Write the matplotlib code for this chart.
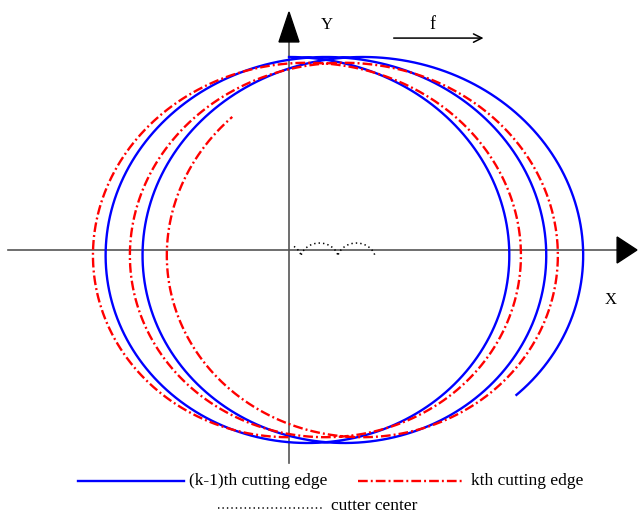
import numpy as np
import matplotlib
matplotlib.use("Agg")
import matplotlib.pyplot as plt
from matplotlib.patches import Polygon
from matplotlib.lines import Line2D

plt.rcParams["font.family"] = ["Liberation Serif", "DejaVu Serif"]
plt.rcParams["lines.scale_dashes"] = False

# Kinematic parameters of the trochoidal cutting-edge paths
feed_per_rev = 1.75            # feed f per revolution (along X)
radius_prev = 10.0             # (k-1)th cutting edge radius
radius_k = 9.7                 # kth cutting edge radius
offset_prev = 0.0              # X offset of the (k-1)th edge path
offset_k = -0.90               # X offset of the kth edge path
angle_range_prev = [0.0, 4 * np.pi + 2.42]       # rotation angle span (rad)
angle_range_k = [np.pi, 6 * np.pi - 0.78]        # rotation angle span (rad)

# Cutter centre path (cycloid-like wobble)
center_first_cusp = 0.57
center_low = -0.31
center_rise = 0.67
center_phase_range = [-2.07, 4 * np.pi]

legend_labels = ["(k-1)th cutting edge", "kth cutting edge", "cutter center"]
axis_labels = ["X", "Y"]
feed_label = "f"


def edge_path(radius, offset, angle_range):
    th = np.linspace(angle_range[0], angle_range[1], 1500)
    x = offset + feed_per_rev * th / (2 * np.pi) + radius * np.sin(th)
    y = radius * np.cos(th)
    return x, y


def center_path():
    ph = np.linspace(center_phase_range[0], center_phase_range[1], 600)
    r = feed_per_rev / (2 * np.pi)
    x = center_first_cusp + r * (ph - np.sin(ph))
    y = center_low + center_rise * (1 - np.cos(ph)) / 2
    return x, y


W, H = 638, 515
fig = plt.figure(figsize=(W / 100, H / 100), dpi=100)
ax = fig.add_axes([0, 0, 1, 1])
ax.set_xlim(-13.697, 16.540)
ax.set_ylim(-13.731, 12.953)
ax.axis("off")

# coordinate axes with triangular arrowheads
axis_col = "#555555"
ax.plot([-13.32, 15.6], [0, 0], color=axis_col, lw=1.2, zorder=1)
ax.plot([0, 0], [-11.04, 10.8], color=axis_col, lw=1.2, zorder=1)
ax.add_patch(Polygon([[15.55, 0.674], [15.55, -0.674], [16.49, 0]],
                     closed=True, color="black", zorder=3))
ax.add_patch(Polygon([[-0.474, 10.78], [0.474, 10.78], [0, 12.33]],
                     closed=True, color="black", zorder=3))

ax.text(1.80, 11.68, axis_labels[1], fontsize=12, ha="center", va="center")
ax.text(15.26, -2.59, axis_labels[0], fontsize=12, ha="center", va="center")
ax.text(6.82, 11.68, feed_label, fontsize=13, ha="center", va="center")
ax.annotate("", xy=(9.35, 10.98), xytext=(4.83, 10.98),
            arrowprops=dict(arrowstyle="->", color="black", lw=1.1,
                            mutation_scale=15))

# cutting edge paths
xb, yb = edge_path(radius_prev, offset_prev, angle_range_prev)
ax.plot(xb, yb, color="#0000ff", lw=1.7, zorder=4)
xr, yr = edge_path(radius_k, offset_k, angle_range_k)
red_dash = (0, (7.0, 2.2, 1.4, 2.2))
ax.plot(xr, yr, color="#ff0000", lw=1.7, linestyle=red_dash, zorder=5)

# cutter centre
xc, yc = center_path()
ax.plot(xc, yc, color="black", lw=1.1, linestyle=(0, (1.0, 2.2)), zorder=4)

# legend drawn in figure pixel layout
def fx(px):
    return px / W


def fy(py):
    return 1 - py / H


fig.add_artist(Line2D([fx(78), fx(184)], [fy(481), fy(481)],
                      color="#0000ff", lw=1.7))
fig.text(fx(189), fy(481), legend_labels[0], fontsize=12.5,
         ha="left", va="center")
fig.add_artist(Line2D([fx(358), fx(463)], [fy(481), fy(481)],
                      color="#ff0000", lw=1.7, linestyle=red_dash))
fig.text(fx(471), fy(481), legend_labels[1], fontsize=12.5,
         ha="left", va="center")
fig.add_artist(Line2D([fx(218), fx(322)], [fy(508), fy(508)],
                      color="black", lw=1.1, linestyle=(0, (1.0, 2.2))))
fig.text(fx(331), fy(506), legend_labels[2], fontsize=12.5,
         ha="left", va="center")

fig.savefig("out.png", dpi=100)
